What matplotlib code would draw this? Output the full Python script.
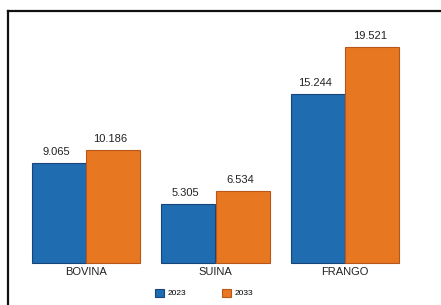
import matplotlib
matplotlib.use('Agg')
import matplotlib.pyplot as plt
import numpy as np
from matplotlib.lines import Line2D
from matplotlib.patches import Patch

categories = ['BOVINA', 'SUINA', 'FRANGO']
v2023 = [9.065, 5.305, 15.244]
v2033 = [10.186, 6.534, 19.521]
series = ['2023', '2033']

blue = '#1f6cb0'
orange = '#e87722'

plt.rcParams['font.family'] = ['Liberation Sans', 'DejaVu Sans']

W, H = 441, 305
fig = plt.figure(figsize=(W / 100, H / 100), dpi=100)
ax = fig.add_axes([0, 0, 1, 1])
ax.axis('off')

# pixel mapping: group spacing 129.5 px, first centre at 86 px, baseline 42 px from bottom
xs = 129.5
ax.set_xlim(-86 / xs, (W - 86) / xs)
ys = 11.07
ax.set_ylim(-42 / ys, (H - 42) / ys)

x = np.arange(len(categories))
bw = 0.415
b1 = ax.bar(x - 0.21, v2023, bw, color=blue, edgecolor='#17457a', linewidth=0.8)
b2 = ax.bar(x + 0.21, v2033, bw, color=orange, edgecolor='#b8561a', linewidth=0.8)

for bars, vals in [(b1, v2023), (b2, v2033)]:
    for r, v in zip(bars, vals):
        ax.text(r.get_x() + r.get_width() / 2 - 0.02, v + 0.55, '%.3f' % v,
                ha='center', va='bottom', fontsize=8, color='#222222')

for xi, c in zip(x, categories):
    ax.text(xi, -0.35, c, ha='center', va='top', fontsize=8, color='#222222')

handles = [Patch(facecolor=blue, edgecolor='#17457a', linewidth=0.8),
           Patch(facecolor=orange, edgecolor='#b8561a', linewidth=0.8)]
fig.legend(handles, series, loc='center', bbox_to_anchor=(204 / W, 1 - 293 / H),
           ncol=2, frameon=False, fontsize=6, handlelength=1.1, handleheight=1.1,
           handletextpad=0.4, columnspacing=4.3, borderpad=0)

# cropped outer frame
fig.add_artist(Line2D([7.5 / W, 7.5 / W], [0, 1 - 11 / H], transform=fig.transFigure,
                      color='#111111', linewidth=1.6))
fig.add_artist(Line2D([7.5 / W, 1], [1 - 11 / H, 1 - 11 / H], transform=fig.transFigure,
                      color='#111111', linewidth=1.6))

plt.savefig('out.png', dpi=100)
